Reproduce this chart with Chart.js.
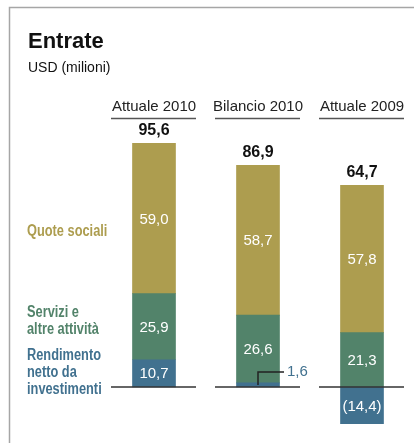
<!DOCTYPE html>
<html>
<head>
<meta charset="utf-8">
<script src="https://cdn.jsdelivr.net/npm/chart.js@4"></script>
<style>
  html, body { margin: 0; padding: 0; background: #fff; }
  #wrap { width: 414px; height: 443px; position: relative; }
</style>
</head>
<body>
<div id="wrap"><canvas id="entrateChart"></canvas></div>
<script>
// data
var categories = ['Attuale 2010', 'Bilancio 2010', 'Attuale 2009'];
var rendimento = [10.7, 1.6, -14.4];
var servizi = [25.9, 26.6, 21.3];
var quote = [59.0, 58.7, 57.8];
var totals = [95.6, 86.9, 64.7];

var colOlive = '#ad9d4f';
var colGreen = '#52836a';
var colBlue = '#41718f';

var SANS = '"Liberation Sans", Arial, sans-serif';

function fmt(v) {
    var s = Math.abs(v).toFixed(1).replace('.', ',');
    return v < 0 ? '(' + s + ')' : s;
}

// condensed text: draw with a horizontal squeeze
function narrowText(ctx, txt, x, y) {
    ctx.save();
    ctx.translate(x, y);
    ctx.scale(0.8, 1);
    ctx.fillText(txt, 0, 0);
    ctx.restore();
}

var decor = {
    id: 'decor',
    beforeDraw: function(chart) {
        var ctx = chart.ctx;
        ctx.save();
        // frame
        ctx.strokeStyle = '#a6a6a6';
        ctx.lineWidth = 1.5;
        ctx.beginPath();
        ctx.moveTo(9.5, 443);
        ctx.lineTo(9.5, 7.5);
        ctx.lineTo(414, 7.5);
        ctx.stroke();

        ctx.fillStyle = '#111';
        ctx.textBaseline = 'alphabetic';
        ctx.textAlign = 'left';
        ctx.font = 'bold 22px ' + SANS;
        ctx.fillText('Entrate', 28, 48);
        ctx.font = '14px ' + SANS;
        ctx.fillText('USD (milioni)', 28, 72);
        ctx.restore();
    },
    afterDatasetsDraw: function(chart) {
        var ctx = chart.ctx;
        var x = chart.scales.x;
        var y = chart.scales.y;
        var zero = y.getPixelForValue(0);
        ctx.save();

        // category headers, underlines and baselines
        categories.forEach(function(c, i) {
            var cx = x.getPixelForValue(i);
            ctx.fillStyle = '#222';
            ctx.font = '15px ' + SANS;
            ctx.textAlign = 'center';
            ctx.textBaseline = 'alphabetic';
            ctx.fillText(c, cx, 111);
            ctx.strokeStyle = '#555';
            ctx.lineWidth = 1.5;
            ctx.beginPath();
            ctx.moveTo(cx - 43, 118.5);
            ctx.lineTo(cx + 42, 118.5);
            ctx.stroke();
            ctx.strokeStyle = '#333';
            ctx.beginPath();
            ctx.moveTo(cx - 43, zero);
            ctx.lineTo(cx + 42, zero);
            ctx.stroke();

            // totals
            ctx.fillStyle = '#111';
            ctx.font = 'bold 16px ' + SANS;
            ctx.textBaseline = 'middle';
            ctx.fillText(fmt(totals[i]), cx, y.getPixelForValue(quote[i] + servizi[i] + Math.max(rendimento[i], 0)) - 13);
        });

        // values inside segments
        chart.data.datasets.forEach(function(ds, di) {
            var meta = chart.getDatasetMeta(di);
            meta.data.forEach(function(el, i) {
                var v = ds.data[i];
                var h = Math.abs(el.base - el.y);
                if (h < 14) {
                    // callout for the small segment
                    var lx = el.x;
                    var ly = (el.y + el.base) / 2;
                    ctx.strokeStyle = '#222';
                    ctx.lineWidth = 1.5;
                    ctx.beginPath();
                    ctx.moveTo(lx, ly);
                    ctx.lineTo(lx, ly - 13);
                    ctx.lineTo(lx + 26, ly - 13);
                    ctx.stroke();
                    ctx.fillStyle = ds.backgroundColor;
                    ctx.font = '15px ' + SANS;
                    ctx.textAlign = 'left';
                    ctx.textBaseline = 'middle';
                    ctx.fillText(fmt(v), lx + 29, ly - 13);
                    return;
                }
                ctx.fillStyle = '#fff';
                ctx.font = '15px ' + SANS;
                ctx.textAlign = 'center';
                ctx.textBaseline = 'middle';
                ctx.fillText(fmt(v), el.x, (el.y + el.base) / 2 + 1);
            });
        });

        // series names on the left
        ctx.textAlign = 'left';
        ctx.textBaseline = 'middle';
        ctx.font = 'bold 16px ' + SANS;
        ctx.fillStyle = colOlive;
        narrowText(ctx, 'Quote sociali', 27, 232);
        ctx.fillStyle = colGreen;
        narrowText(ctx, 'Servizi e', 27, 313);
        narrowText(ctx, 'altre attività', 27, 330);
        ctx.fillStyle = colBlue;
        narrowText(ctx, 'Rendimento', 27, 356);
        narrowText(ctx, 'netto da', 27, 373);
        narrowText(ctx, 'investimenti', 27, 390);
        ctx.restore();
    }
};

var ctx = document.getElementById('entrateChart');
var entrateChart = new Chart(ctx, {
    type: 'bar',
    data: {
        labels: categories,
        datasets: [
            { label: 'Rendimento netto da investimenti', data: rendimento, backgroundColor: colBlue },
            { label: 'Servizi e altre attività', data: servizi, backgroundColor: colGreen },
            { label: 'Quote sociali', data: quote, backgroundColor: colOlive }
        ]
    },
    options: {
        responsive: true,
        maintainAspectRatio: false,
        animation: false,
        layout: { padding: { left: 102, right: 0, top: 132, bottom: 5 } },
        datasets: { bar: { barThickness: 43 } },
        plugins: {
            legend: { display: false },
            tooltip: { enabled: false }
        },
        scales: {
            x: { stacked: true, display: false },
            y: { stacked: true, display: false, min: -20, max: 100 }
        }
    },
    plugins: [decor]
});
</script>
</body>
</html>
